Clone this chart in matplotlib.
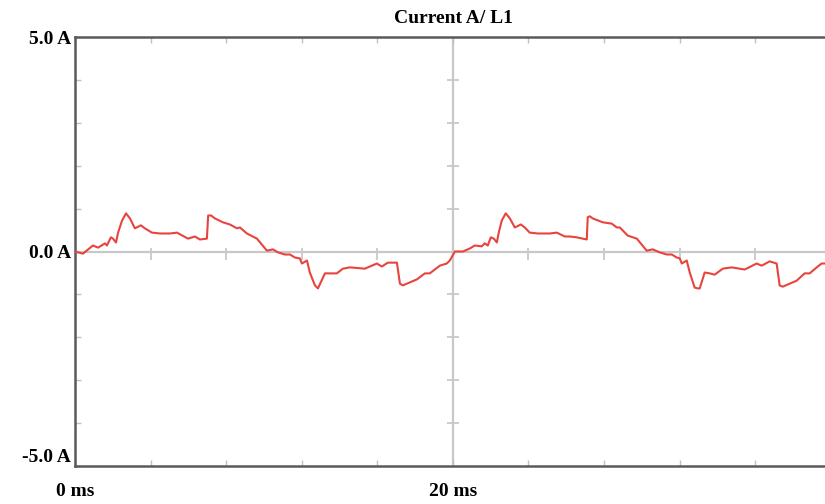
import matplotlib
matplotlib.use("Agg")
import matplotlib.pyplot as plt
import numpy as np

# first cycle (ms, A)
p1_t = [0.0, 0.42, 0.95, 1.22, 1.59, 1.69, 1.90, 2.01, 2.17, 2.28, 2.49, 2.70,
        2.91, 3.17, 3.49, 3.70, 4.07, 4.50, 5.03, 5.40, 5.98, 6.35, 6.61, 6.98,
        7.05, 7.20, 7.41, 7.83, 8.20, 8.57, 8.73, 9.10, 9.63, 10.16, 10.48,
        10.74, 11.11, 11.38, 11.64, 11.90, 12.01, 12.28, 12.43, 12.70, 12.86,
        13.23, 13.60, 13.86, 14.18, 14.55, 15.34, 15.98, 16.24, 16.56, 17.04,
        17.20, 17.35, 17.72, 18.10, 18.52, 18.78, 19.31, 19.68, 19.84]
p1_i = [0.0, -0.05, 0.14, 0.09, 0.19, 0.14, 0.33, 0.30, 0.21, 0.44, 0.72, 0.89,
        0.77, 0.54, 0.61, 0.54, 0.44, 0.42, 0.42, 0.44, 0.30, 0.35, 0.28, 0.30,
        0.84, 0.84, 0.77, 0.68, 0.63, 0.54, 0.56, 0.42, 0.30, 0.02, 0.05,
        -0.02, -0.07, -0.07, -0.14, -0.16, -0.28, -0.21, -0.49, -0.79, -0.86,
        -0.51, -0.51, -0.51, -0.40, -0.37, -0.40, -0.28, -0.35, -0.26, -0.26,
        -0.75, -0.79, -0.72, -0.65, -0.51, -0.51, -0.33, -0.28, -0.21]

# second cycle
p2_t = [20.11, 20.53, 20.90, 21.16, 21.53, 21.69, 21.85, 22.01, 22.17, 22.33,
        22.43, 22.59, 22.80, 23.02, 23.28, 23.60, 23.81, 24.07, 24.50, 25.13,
        25.50, 25.93, 26.19, 26.56, 27.09, 27.14, 27.25, 27.41, 27.94, 28.41,
        28.68, 28.84, 29.26, 29.74, 30.26, 30.58, 30.95, 31.32, 31.59, 31.85,
        32.01, 32.12, 32.38, 32.54, 32.80, 32.96, 33.07, 33.33, 33.60, 33.86,
        34.29, 34.76, 35.45, 36.08, 36.35, 36.77, 37.14, 37.30, 37.46, 37.83,
        38.20, 38.62, 38.89, 39.26, 39.52, 39.70]
p2_i = [0.0, 0.0, 0.07, 0.14, 0.12, 0.19, 0.14, 0.33, 0.30, 0.21,
        0.44, 0.72, 0.89, 0.77, 0.56, 0.63, 0.56, 0.44, 0.42, 0.42,
        0.44, 0.35, 0.35, 0.33, 0.28, 0.80, 0.82, 0.77, 0.68, 0.65,
        0.56, 0.56, 0.37, 0.30, 0.02, 0.05, -0.02, -0.07, -0.07, -0.14,
        -0.16, -0.28, -0.21, -0.49, -0.84, -0.86, -0.86, -0.49, -0.51, -0.54,
        -0.40, -0.37, -0.42, -0.28, -0.33, -0.23, -0.28, -0.79, -0.82, -0.75,
        -0.68, -0.51, -0.51, -0.37, -0.28, -0.28]

t = p1_t + p2_t
cur = p1_i + p2_i

font = {"family": "Liberation Serif", "weight": "bold", "size": 14}
spine_col = "#5a5a5a"
grid_col = "#c8c8c8"

fig = plt.figure(figsize=(8.25, 5.04), dpi=100)
ax = fig.add_axes([75/825, 38/504, 1 - 75/825, 429/504])

ax.set_xlim(0, 39.7)
ax.set_ylim(-5, 5)

# centre lines with little cross ticks
ax.axhline(0, color=grid_col, lw=1.6, zorder=1)
ax.axvline(20, color=grid_col, lw=1.6, zorder=1)
xt = np.arange(4, 40, 4)
ax.plot(xt, np.full(len(xt), -0.05), ls="none", marker="|", ms=9, mew=1.3,
        color=grid_col, zorder=1)
yt = np.arange(-4, 5, 1)
ax.plot(np.full(len(yt), 20), yt, ls="none", marker="_", ms=9, mew=1.3,
        color=grid_col, zorder=1)

ax.plot(t, cur, color="#e8443e", lw=1.5, zorder=3)

for s in ["left", "bottom", "top"]:
    ax.spines[s].set_color(spine_col)
    ax.spines[s].set_linewidth(1.8)
ax.spines["right"].set_visible(False)

ax.set_xticks([0, 20])
ax.set_xticklabels(["0 ms", "20 ms"], fontdict=font)
ax.set_xticks(np.arange(0, 40, 4), minor=True)
ax.set_yticks([-5, 0, 5])
ax.set_yticklabels(["-5.0 A", "0.0 A", "5.0 A"], fontdict=font)
ax.set_yticks(np.arange(-5, 6, 1), minor=True)
ax.get_yticklabels()[0].set_verticalalignment("bottom")

ax.tick_params(axis="x", which="both", direction="in", top=True,
               length=4, width=1, color="#c0c0c0", pad=12)
ax.tick_params(axis="y", which="both", direction="in", length=4, width=1,
               color="#c0c0c0", pad=3)

ax.set_title("Current A/ L1", fontdict=font, pad=10, x=(453-75)/750)

fig.savefig("out.png", dpi=100)
